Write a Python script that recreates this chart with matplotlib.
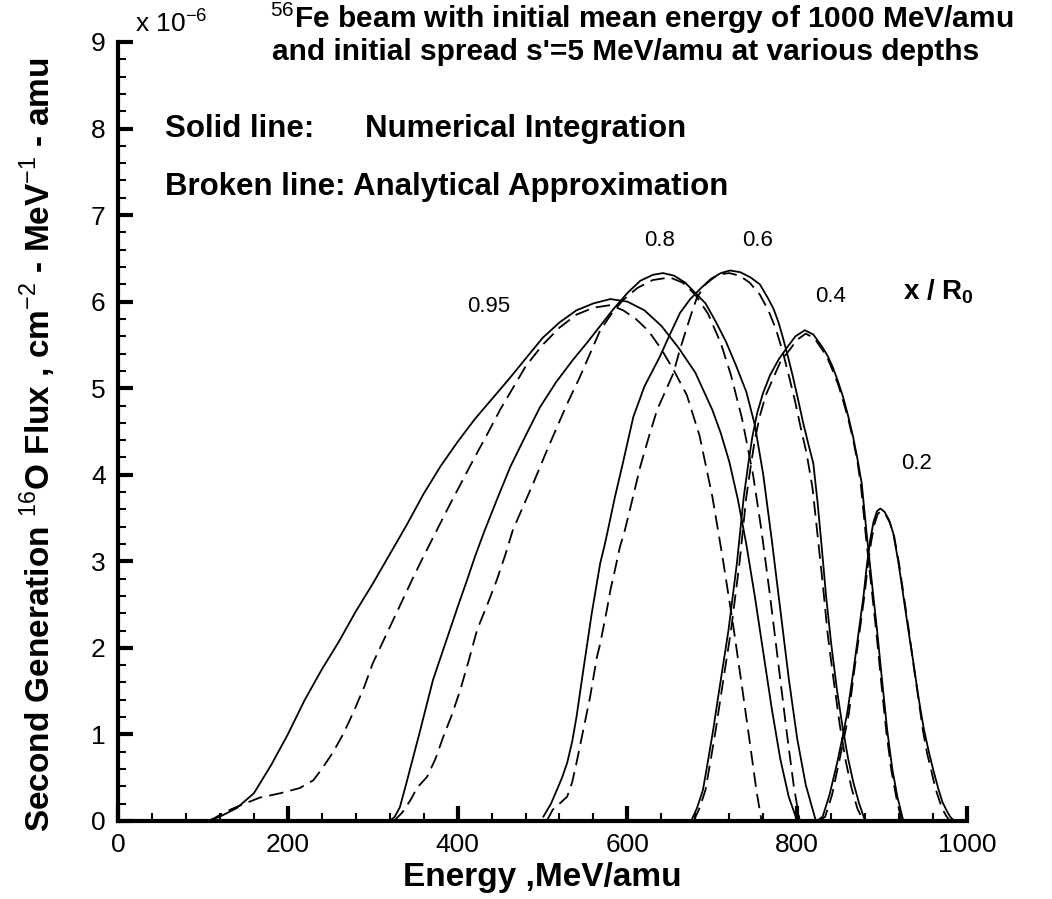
import numpy as np
import matplotlib
matplotlib.use("Agg")
import matplotlib.pyplot as plt
from matplotlib.ticker import MultipleLocator

plt.rcParams['font.family'] = ['Liberation Sans', 'DejaVu Sans']
plt.rcParams['mathtext.fontset'] = 'custom'
plt.rcParams['mathtext.rm'] = 'Liberation Sans'
plt.rcParams['mathtext.bf'] = 'Liberation Sans:bold'

# flux curves at each depth x/R0: energy (MeV/amu) and flux (units of 1e-6)
# *_num = numerical integration (solid), *_ana = analytical approximation (broken)
e_095_num = [105, 120, 140, 160, 180, 200, 220, 240, 260, 280, 300, 320, 340, 360, 380, 400, 420, 440, 460,
             480, 500, 520, 540, 560, 580, 600, 620, 640, 660, 680, 700, 710, 720, 730, 740, 750, 760, 770,
             780, 790, 800]
f_095_num = [0.0, 0.05, 0.15, 0.32, 0.64, 1.0, 1.4, 1.75, 2.07, 2.42, 2.74, 3.08, 3.42, 3.78, 4.1, 4.38, 4.64,
             4.87, 5.1, 5.34, 5.58, 5.76, 5.9, 5.98, 6.03, 6.0, 5.9, 5.72, 5.47, 5.18, 4.75, 4.48, 4.15, 3.72,
             3.2, 2.6, 1.95, 1.3, 0.72, 0.28, 0.0]
e_095_ana = [108, 125, 144, 167, 191, 214, 230, 240, 253, 265, 277, 290, 300, 312, 324, 336, 347, 360, 375,
             390, 405, 420, 435, 450, 465, 480, 500, 520, 540, 560, 580, 595, 610, 625, 640, 655, 670, 685,
             700, 712, 724, 735, 745, 752, 758]
f_095_ana = [0.0, 0.1, 0.18, 0.27, 0.32, 0.38, 0.47, 0.6, 0.79, 1.0, 1.25, 1.55, 1.82, 2.07, 2.32, 2.57, 2.8,
             3.06, 3.35, 3.64, 3.92, 4.2, 4.47, 4.75, 5.0, 5.25, 5.5, 5.7, 5.85, 5.93, 5.96, 5.9, 5.8, 5.66,
             5.45, 5.2, 4.92, 4.45, 3.75, 3.05, 2.3, 1.55, 0.85, 0.35, 0.0]

e_08_num = [320, 326, 332, 340, 348, 356, 364, 371, 381, 391, 401, 411, 421, 432, 447, 462, 480, 497, 516,
            536, 552, 568, 584, 600, 615, 630, 642, 655, 668, 680, 692, 704, 716, 728, 740, 750, 760, 770,
            780, 790, 800, 810, 822]
f_08_num = [0.0, 0.05, 0.16, 0.45, 0.75, 1.05, 1.36, 1.63, 1.92, 2.21, 2.5, 2.78, 3.07, 3.36, 3.73, 4.09,
            4.45, 4.78, 5.07, 5.33, 5.52, 5.72, 5.92, 6.1, 6.24, 6.31, 6.33, 6.3, 6.22, 6.1, 5.98, 5.77, 5.54,
            5.26, 4.96, 4.58, 4.0, 3.25, 2.45, 1.65, 0.95, 0.42, 0.0]
e_08_ana = [325, 335, 345, 352, 364, 374, 383, 393, 403, 413, 423, 435, 446, 456, 465, 477, 489, 503, 517,
            530, 544, 556, 568, 582, 595, 612, 630, 650, 665, 680, 695, 710, 722, 735, 748, 758, 768, 778,
            788, 796, 803]
f_08_ana = [0.0, 0.1, 0.25, 0.38, 0.51, 0.72, 0.97, 1.22, 1.51, 1.85, 2.21, 2.5, 2.78, 3.07, 3.36, 3.63, 3.9,
            4.23, 4.55, 4.84, 5.13, 5.4, 5.67, 5.87, 6.02, 6.16, 6.25, 6.28, 6.22, 6.08, 5.86, 5.52, 5.15,
            4.65, 4.0, 3.35, 2.6, 1.8, 1.0, 0.4, 0.0]

e_06_num = [501, 510, 517, 523, 529, 535, 540, 544, 548, 553, 558, 563, 568, 573, 577, 585, 595, 607, 620,
            638, 650, 662, 674, 686, 698, 710, 721, 733, 745, 756, 765, 772, 778, 783, 789, 795, 801, 807,
            813, 819, 824, 829, 834, 840, 847, 854, 860, 866, 873, 880]
f_06_num = [0.05, 0.2, 0.36, 0.5, 0.67, 0.92, 1.2, 1.47, 1.74, 2.07, 2.4, 2.69, 2.98, 3.18, 3.36, 3.73, 4.15,
            4.67, 5.02, 5.36, 5.62, 5.87, 6.03, 6.15, 6.26, 6.33, 6.36, 6.34, 6.28, 6.2, 6.05, 5.92, 5.76,
            5.59, 5.37, 5.13, 4.87, 4.6, 4.36, 4.13, 3.68, 3.15, 2.6, 2.05, 1.5, 1.05, 0.72, 0.45, 0.2, 0.0]
e_06_ana = [505, 512, 520, 529, 535, 540, 544, 548, 552, 556, 560, 564, 568, 571, 576, 580, 586, 591, 597,
            606, 615, 625, 635, 645, 654, 662, 670, 676, 682, 692, 702, 712, 720, 732, 744, 756, 766, 775,
            783, 790, 797, 804, 811, 818, 824, 830, 836, 843, 850, 857, 864, 871, 878]
f_06_ana = [0.0, 0.13, 0.2, 0.28, 0.45, 0.67, 0.86, 1.05, 1.24, 1.43, 1.66, 1.89, 2.05, 2.2, 2.45, 2.67, 2.93,
            3.16, 3.36, 3.72, 4.09, 4.43, 4.75, 4.97, 5.17, 5.45, 5.7, 5.88, 6.05, 6.2, 6.28, 6.32, 6.33, 6.3,
            6.22, 6.08, 5.9, 5.68, 5.42, 5.15, 4.87, 4.55, 4.25, 3.85, 3.3, 2.75, 2.15, 1.62, 1.12, 0.7, 0.38,
            0.14, 0.0]

e_04_num = [675, 682, 689, 695, 701, 707, 713, 719, 724, 729, 733, 737, 742, 747, 753, 760, 768, 778, 788,
            798, 809, 819, 830, 836, 842, 848, 854, 860, 866, 871, 876, 879, 882, 888, 894, 900, 906, 912,
            918, 925]
f_04_num = [0.0, 0.15, 0.36, 0.7, 1.05, 1.44, 1.82, 2.2, 2.59, 2.98, 3.36, 3.74, 4.1, 4.43, 4.72, 4.95, 5.15,
            5.33, 5.47, 5.6, 5.67, 5.62, 5.47, 5.37, 5.24, 5.08, 4.9, 4.68, 4.43, 4.18, 3.9, 3.6, 3.3, 2.75,
            2.21, 1.62, 1.05, 0.6, 0.28, 0.0]
e_04_ana = [678, 685, 692, 698, 704, 710, 716, 722, 727, 732, 736, 740, 745, 750, 756, 763, 771, 780, 790,
            800, 810, 820, 830, 836, 842, 848, 854, 860, 866, 871, 875, 878, 881, 887, 893, 899, 905, 911,
            917, 923]
f_04_ana = [0.0, 0.15, 0.36, 0.7, 1.05, 1.44, 1.82, 2.2, 2.59, 2.98, 3.36, 3.74, 4.08, 4.4, 4.68, 4.92, 5.1,
            5.3, 5.43, 5.56, 5.63, 5.58, 5.44, 5.34, 5.2, 5.05, 4.86, 4.65, 4.4, 4.15, 3.88, 3.58, 3.28, 2.74,
            2.2, 1.6, 1.03, 0.58, 0.26, 0.0]

e_02_num = [823, 830, 838, 847, 853, 859, 865, 870, 874, 878, 882, 886, 890, 894, 898, 903, 908, 913, 919,
            925, 931, 937, 943, 949, 955, 960, 966, 971, 976, 980, 985]
f_02_num = [0.0, 0.05, 0.3, 0.67, 0.95, 1.25, 1.65, 2.01, 2.3, 2.59, 2.95, 3.25, 3.46, 3.58, 3.61, 3.57,
            3.48, 3.33, 3.0, 2.6, 2.2, 1.82, 1.42, 1.07, 0.8, 0.6, 0.38, 0.22, 0.12, 0.05, 0.0]
e_02_ana = [826, 833, 841, 849, 855, 861, 866, 871, 875, 879, 883, 887, 891, 895, 899, 904, 909, 914, 920,
            926, 932, 937, 943, 948, 953, 958, 963, 968, 972, 976, 980]
f_02_ana = [0.0, 0.05, 0.3, 0.67, 0.95, 1.25, 1.65, 2.01, 2.3, 2.59, 2.93, 3.22, 3.43, 3.55, 3.58, 3.54,
            3.45, 3.3, 2.97, 2.57, 2.17, 1.8, 1.4, 1.05, 0.78, 0.58, 0.37, 0.22, 0.12, 0.05, 0.0]

curves = [(e_095_num, f_095_num, e_095_ana, f_095_ana),
          (e_08_num, f_08_num, e_08_ana, f_08_ana),
          (e_06_num, f_06_num, e_06_ana, f_06_ana),
          (e_04_num, f_04_num, e_04_ana, f_04_ana),
          (e_02_num, f_02_num, e_02_ana, f_02_ana)]

depth_labels = ['0.95', '0.8', '0.6', '0.4', '0.2']
label_e = [437, 638, 753, 839, 941]
label_f = [5.94, 6.71, 6.71, 6.06, 4.13]

fig = plt.figure(figsize=(10.52, 8.99), dpi=100)
ax = fig.add_axes([0.1122, 0.0868, 0.807, 0.8665])

for en, fn, ea, fa in curves:
    ax.plot(en, fn, color='black', lw=1.3)
    ax.plot(ea, fa, color='black', lw=1.3, dashes=(8, 4))

for lab, x, y in zip(depth_labels, label_e, label_f):
    ax.text(x, y, lab, fontsize=16, ha='center', va='center')
ax.text(966, 6.12, r'x / R$_{\mathbf{0}}$', fontsize=20, fontweight='bold', ha='center', va='center')

ax.text(55, 8.0, 'Solid line:', fontsize=22.5, fontweight='bold', va='center')
ax.text(291, 8.0, 'Numerical Integration', fontsize=22.5, fontweight='bold', va='center')
ax.text(55, 7.33, 'Broken line: Analytical Approximation', fontsize=22.5, fontweight='bold', va='center')

ax.set_xlim(0, 1000)
ax.set_ylim(0, 9)
ax.xaxis.set_major_locator(MultipleLocator(200))
ax.xaxis.set_minor_locator(MultipleLocator(40))
ax.yaxis.set_major_locator(MultipleLocator(1))
ax.yaxis.set_minor_locator(MultipleLocator(0.2))
ax.tick_params(which='major', direction='in', length=11, width=3, labelsize=19, pad=9)
ax.tick_params(which='minor', direction='in', length=6, width=1.5)
for s in ['top', 'right']:
    ax.spines[s].set_visible(False)
for s in ['left', 'bottom']:
    ax.spines[s].set_linewidth(3)

ax.set_xlabel('Energy ,MeV/amu', fontsize=24, fontweight='bold', va='center')
ax.xaxis.set_label_coords(0.5, -0.073)
ax.set_ylabel(r'Second Generation $^{16}$O Flux , cm$^{-2}$ - MeV$^{-1}$ - amu', fontsize=24,
              fontweight='bold', va='center')
ax.yaxis.set_label_coords(-0.094, 0.483)

fig.text(0.128, 0.975, r'x 10$^{-6}$', fontsize=19, va='center')
fig.text(0.257, 0.98, r'$^{56}$Fe beam with initial mean energy of 1000 MeV/amu', fontsize=21.5,
         fontweight='bold', va='center')
fig.text(0.259, 0.942, "and initial spread s'=5 MeV/amu at various depths", fontsize=21.5,
         fontweight='bold', va='center')

fig.savefig('out.png', dpi=100)
